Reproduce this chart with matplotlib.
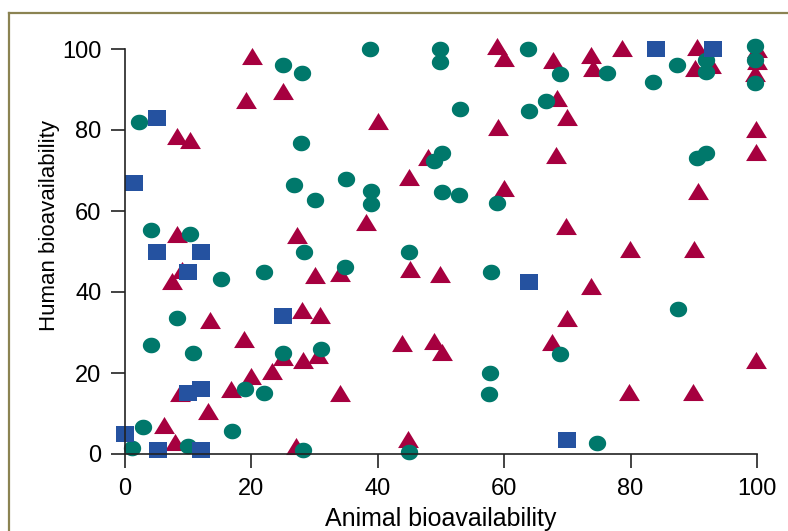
import numpy as np
import matplotlib.pyplot as plt
from matplotlib.lines import Line2D

# compounds: (animal, human) bioavailability, three groups by marker
tri_x = [20.1, 25, 19.1, 8.2, 10.3, 8.2, 27.2, 30.1, 34, 9, 7.5, 13.4, 18.9, 28, 30.9,
         20, 23.2, 28.2, 25, 30.5, 8.7, 16.8, 34, 13.1, 6.1, 7.9, 27.1,
         58.8, 59.9, 67.8, 73.8, 74.1, 78.6, 68.3, 69.9, 40, 59, 48, 68.2, 45, 59.9,
         38.1, 69.8, 45.1, 49.8, 70, 73.7, 43.8, 48.9, 50.1, 67.6, 44.8,
         90.5, 90.2, 92.8, 100, 100, 99.7, 99.8, 99.8, 90.6, 79.9, 90, 99.8, 79.8, 89.8]
tri_y = [98.3, 89.6, 87.4, 78.5, 77.5, 54.3, 54.1, 44.2, 44.8, 45.4, 42.8, 33.2, 28.5, 35.6, 34.3,
         19.3, 20.6, 23.2, 24, 24.5, 15, 16, 15.1, 10.5, 7.2, 2.9, 2,
         100.8, 97.7, 97.4, 98.5, 95.2, 100.2, 87.8, 83.3, 82.1, 80.8, 73.4, 73.8, 68.5, 65.6,
         57.4, 56.3, 45.8, 44.4, 33.5, 41.5, 27.5, 27.9, 25.3, 27.7, 3.6,
         100.4, 95.2, 96, 100, 97, 94, 80.2, 74.6, 64.9, 50.5, 50.5, 23.2, 15.4, 15.2]

circ_x = [2.2, 25, 28, 27.8, 26.7, 30, 35, 4.1, 10.3, 28.3, 22, 15.2, 34.8, 8.2, 4.1,
          10.7, 25, 31, 19, 22, 2.9, 17, 1.1, 9.9, 28.2,
          38.8, 49.8, 49.8, 63.8, 68.8, 53, 64, 66.6, 50.1, 48.9, 38.9, 38.9, 50.1, 52.9,
          58.8, 44.9, 57.9, 68.8, 57.8, 57.6, 44.9,
          76.2, 83.6, 87.4, 91.9, 91.9, 99.7, 99.7, 99.7, 90.5, 92, 87.5, 74.7]
circ_y = [82, 96, 94, 76.7, 66.4, 62.7, 68, 55.3, 54.2, 50, 45, 43.2, 46.2, 33.7, 26.9,
          25, 25, 26, 16, 15, 6.7, 5.7, 1.6, 2, 1,
          100, 100, 96.7, 100, 93.8, 85.2, 84.8, 87.2, 74.2, 72.4, 65, 61.7, 64.8, 64,
          62, 50, 45, 24.7, 20.1, 14.8, 0.6,
          94, 91.8, 96, 97.4, 94.4, 100.8, 97.4, 91.5, 73, 74.2, 35.8, 2.6]

sq_x = [0, 1.5, 5, 5, 5.3, 10, 12, 10, 12, 12, 25, 64, 70, 84, 93]
sq_y = [5, 67, 83, 50, 1, 45, 50, 15, 16, 1, 34, 42.5, 3.5, 100, 100]

ticks = [0, 20, 40, 60, 80, 100]

# markers in the picture are a bit wider than tall
t = np.linspace(0, 2 * np.pi, 40)
ellipse = list(zip(np.cos(t), 0.9 * np.sin(t)))
wide_sq = [(-1, -0.83), (1, -0.83), (1, 0.83), (-1, 0.83), (-1, -0.83)]
wide_tri = [(-1, -0.82), (1, -0.82), (0, 0.82), (-1, -0.82)]

plt.rcParams['font.family'] = ['Liberation Sans', 'DejaVu Sans']

fig = plt.figure(figsize=(7.88, 5.31), dpi=100)
ax = fig.add_axes([125 / 788, 1 - 454 / 531, 632 / 788, 405 / 531])

ax.plot(tri_x, tri_y, linestyle='none', marker=wide_tri, color='#a6003f',
        markersize=15, markeredgewidth=0, clip_on=False)
ax.plot(circ_x, circ_y, linestyle='none', marker=ellipse, color='#00786b',
        markersize=12.5, markeredgewidth=0, clip_on=False)
ax.plot(sq_x, sq_y, linestyle='none', marker=wide_sq, color='#2552a0',
        markersize=13.3, markeredgewidth=0, clip_on=False)

ax.set_xlim(0, 100)
ax.set_ylim(0, 100)
ax.set_xticks(ticks)
ax.set_yticks(ticks)
ax.spines['top'].set_visible(False)
ax.spines['right'].set_visible(False)
for s in ['left', 'bottom']:
    ax.spines[s].set_linewidth(1.2)
    ax.spines[s].set_color('#222222')
ax.tick_params(length=10, width=1.2, color='#222222', labelsize=17, pad=7)

ax.set_xlabel('Animal bioavailability', fontsize=18, labelpad=5)
ax.set_ylabel('Human bioavailability', fontsize=16)
ax.yaxis.set_label_coords(-0.103, 0.563)

# olive frame round the figure (right and bottom edges fall outside the picture)
fig.add_artist(Line2D([8.5 / 788, 8.5 / 788], [0, 1 - 12.5 / 531], color='#8b8352', lw=1.6))
fig.add_artist(Line2D([8.5 / 788, 1], [1 - 12.5 / 531, 1 - 12.5 / 531], color='#8b8352', lw=1.6))

fig.savefig('out.png', dpi=100)
